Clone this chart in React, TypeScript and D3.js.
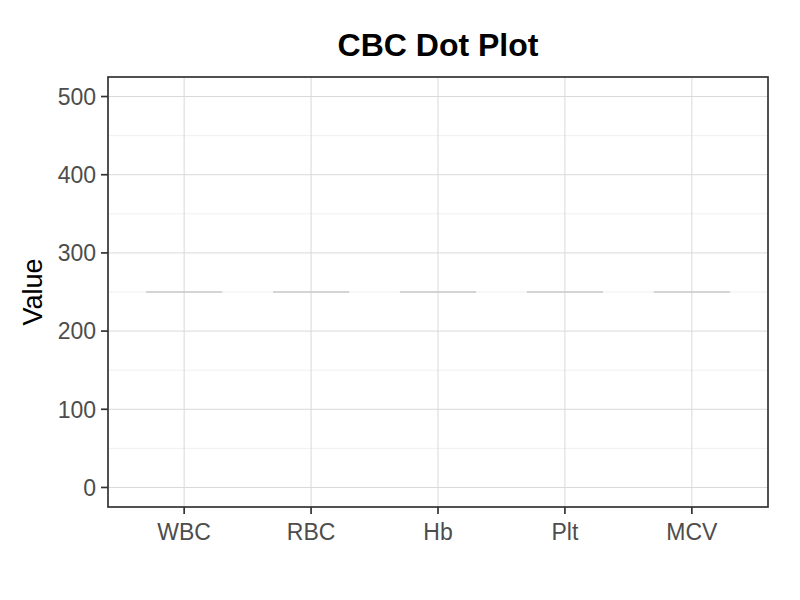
import React from "react";
import * as d3 from "d3";

const categories = ["WBC", "RBC", "Hb", "Plt", "MCV"];
const medianValues = [250, 250, 250, 250, 250];
const yTicks = [0, 100, 200, 300, 400, 500];
const yMinorTicks = [50, 150, 250, 350, 450];
const titleText = "CBC Dot Plot";
const yTitle = "Value";

const W = 800;
const H = 600;
const M = { left: 108, right: 768, top: 77, bottom: 507 };
const FONT = "'Liberation Sans', Arial, sans-serif";

export default function App() {
  const n = categories.length;
  const x = d3
    .scaleLinear()
    .domain([1 - 0.6, n + 0.6])
    .range([M.left, M.right]);
  const y = d3.scaleLinear().domain([-25, 525]).range([M.bottom, M.top]);
  const step = x(2) - x(1);

  return (
    <svg
      width={W}
      height={H}
      style={{ position: "absolute", left: 0, top: 0, background: "#fff" }}
      fontFamily={FONT}
    >
      <rect x={0} y={0} width={W} height={H} fill="#fff" />
      {/* minor grid */}
      {yMinorTicks.map((t) => (
        <line
          key={"m" + t}
          x1={M.left}
          x2={M.right}
          y1={y(t)}
          y2={y(t)}
          stroke="#ebebeb"
          strokeWidth={0.8}
        />
      ))}
      {/* major grid */}
      {yTicks.map((t) => (
        <line
          key={"g" + t}
          x1={M.left}
          x2={M.right}
          y1={y(t)}
          y2={y(t)}
          stroke="#d9d9d9"
          strokeWidth={1}
        />
      ))}
      {categories.map((c, i) => (
        <line
          key={"v" + c}
          x1={x(i + 1)}
          x2={x(i + 1)}
          y1={M.top}
          y2={M.bottom}
          stroke="#d9d9d9"
          strokeWidth={1}
        />
      ))}
      {/* median segments */}
      {categories.map((c, i) => (
        <line
          key={"s" + c}
          x1={x(i + 1) - step * 0.3}
          x2={x(i + 1) + step * 0.3}
          y1={y(medianValues[i])}
          y2={y(medianValues[i])}
          stroke="#c8c8c8"
          strokeWidth={1.6}
        />
      ))}
      {/* panel border */}
      <rect
        x={M.left}
        y={M.top}
        width={M.right - M.left}
        height={M.bottom - M.top}
        fill="none"
        stroke="#333333"
        strokeWidth={1.7}
      />
      {/* y ticks */}
      {yTicks.map((t) => (
        <g key={"yt" + t}>
          <line
            x1={M.left - 7}
            x2={M.left}
            y1={y(t)}
            y2={y(t)}
            stroke="#333333"
            strokeWidth={1.7}
          />
          <text
            x={M.left - 12}
            y={y(t)}
            dy="0.36em"
            textAnchor="end"
            fontSize={23}
            fill="#4d4d4d"
          >
            {t}
          </text>
        </g>
      ))}
      {/* x ticks */}
      {categories.map((c, i) => (
        <g key={"xt" + c}>
          <line
            x1={x(i + 1)}
            x2={x(i + 1)}
            y1={M.bottom}
            y2={M.bottom + 7}
            stroke="#333333"
            strokeWidth={1.7}
          />
          <text
            x={x(i + 1)}
            y={539.5}
            textAnchor="middle"
            fontSize={23}
            fill="#4d4d4d"
          >
            {c}
          </text>
        </g>
      ))}
      {/* title */}
      <text
        x={(M.left + M.right) / 2}
        y={56}
        textAnchor="middle"
        fontSize={32}
        fontWeight="bold"
        fill="#000"
      >
        {titleText}
      </text>
      {/* y title */}
      <text
        transform={`translate(42, ${(M.top + M.bottom) / 2}) rotate(-90)`}
        textAnchor="middle"
        fontSize={27}
        fill="#000"
      >
        {yTitle}
      </text>
    </svg>
  );
}
